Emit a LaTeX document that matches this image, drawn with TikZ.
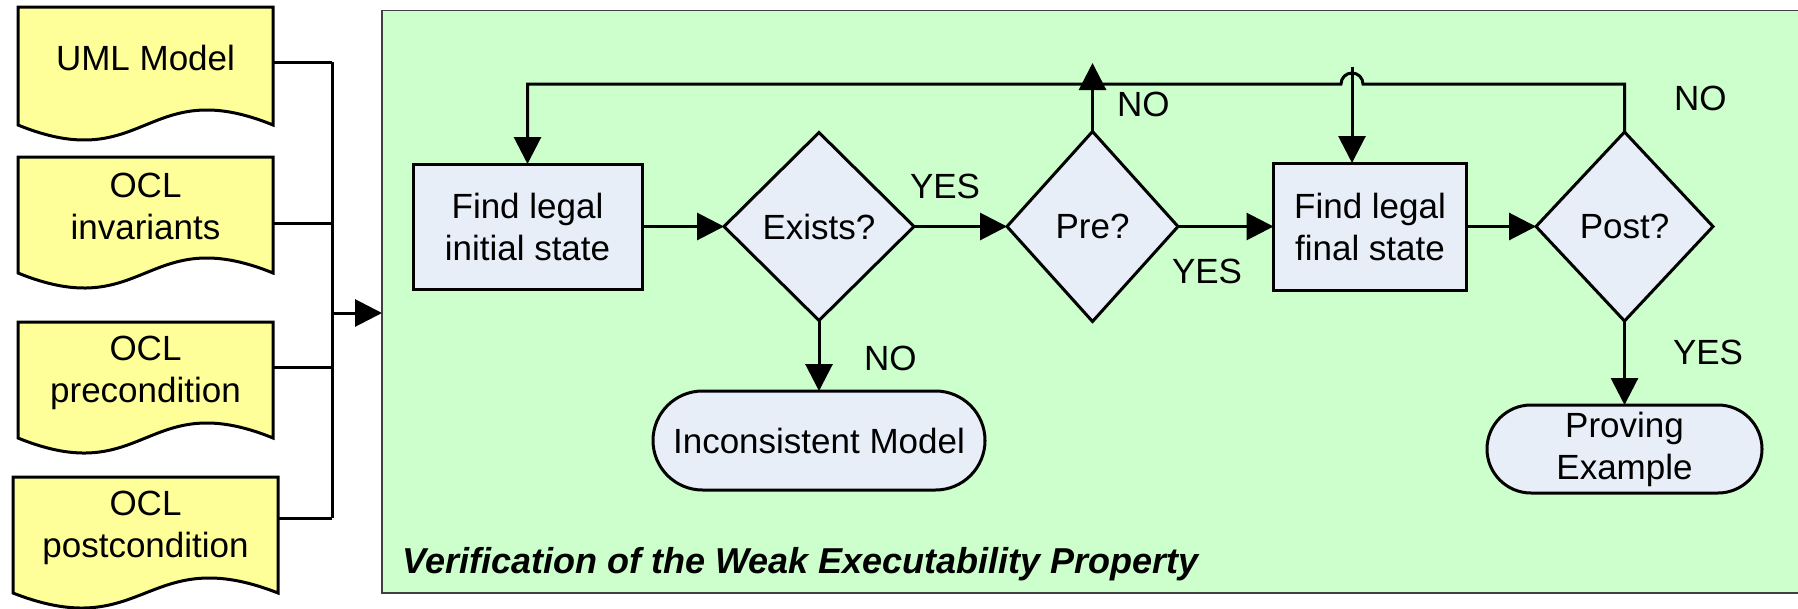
\documentclass[tikz,border=0pt]{standalone}
\usepackage{fontspec}
\setmainfont{Liberation Sans}
\usetikzlibrary{arrows.meta,shapes.geometric,calc}

\definecolor{docfill}{HTML}{FFFF99}
\definecolor{stepfill}{HTML}{E8EEF8}
\definecolor{panelfill}{HTML}{CCFFCC}

\tikzset{
  txt/.style={font=\fontsize{35}{42}\selectfont, inner sep=0pt, outer sep=0pt, align=center},
  panel/.style={draw=black!75, line width=1.5pt, fill=panelfill, inner sep=0pt, outer sep=0pt},
  docbody/.style={inner sep=0pt, outer sep=0pt},
  docline/.style={draw=black, fill=docfill},
  procbox/.style={txt, draw, fill=stepfill},
  decision/.style={txt, diamond, draw, fill=stepfill},
  terminal/.style={txt, draw, fill=stepfill},
  lbl/.style={txt, anchor=base west},
  tip/.style={-{Triangle[length=27pt,width=27pt]}},
  heading/.style={font=\bfseries\itshape\fontsize{36}{40}\selectfont, inner sep=0pt, anchor=base west}
}

% document symbol with a wavy lower edge, drawn around an empty node
\newcommand\docwave[1]{%
  \draw[docline] (#1.north west) -- (#1.north east) -- (#1.south east)
    .. controls ($(#1.south)+(0,-52)$) and ($(#1.south)+(0,52)$) .. (#1.south west) -- cycle;}

\begin{document}
\begin{tikzpicture}[x=1pt,y=-1pt,line width=3pt,line join=miter]
\useasboundingbox (0,0) rectangle (1798,608);

% green process panel
\node[panel, minimum width=1428pt, minimum height=582.5pt] (panel) at (1096,301.75) {};
\node[heading] (title) at (401,573) {Verification of the Weak Executability Property};

% input documents
\node[docbody, minimum width=255pt, minimum height=118pt] (uml) at (145.5,66) {};
\docwave{uml}
\node[txt] (umltext) at (145.5,57.5) {UML Model};

\node[docbody, minimum width=255pt, minimum height=116pt] (inv) at (145.5,215) {};
\docwave{inv}
\node[txt] (invtext) at (145.5,206) {OCL\\invariants};

\node[docbody, minimum width=255pt, minimum height=116pt] (prec) at (145.5,380) {};
\docwave{prec}
\node[txt] (prectext) at (145.5,372.5) {OCL\\precondition};

\node[docbody, minimum width=265pt, minimum height=116pt] (postc) at (145.5,535) {};
\docwave{postc}
\node[txt] (postctext) at (145.5,527.5) {OCL\\postcondition};

% collecting bus into the panel
\coordinate (bus1) at (332,62);
\coordinate (bus2) at (332,223);
\coordinate (bus3) at (332,367);
\coordinate (bus4) at (332,518);
\coordinate (busout) at (332,313);
\draw (uml.east |- bus1) -- (bus1);
\draw (inv.east |- bus2) -- (bus2);
\draw (prec.east |- bus3) -- (bus3);
\draw (postc.east |- bus4) -- (bus4);
\draw (bus1) -- (bus4);
\draw[tip] (busout) -- (panel.west |- busout);

% flow steps
\node[procbox, minimum width=229pt, minimum height=125pt] (init) at (527.5,226.5) {Find legal\\initial state};
\node[decision, minimum width=190pt, minimum height=188pt] (exists) at (819,226.5) {Exists?};
\node[decision, minimum width=171pt, minimum height=190pt] (pre) at (1092.5,226.5) {Pre?};
\node[procbox, minimum width=193pt, minimum height=127pt] (fin) at (1370,226.5) {Find legal\\final state};
\node[decision, minimum width=177pt, minimum height=189pt] (post) at (1624.5,226.5) {Post?};
\node[terminal, minimum width=332pt, minimum height=99pt, rounded corners=49.5pt] (incon) at (819,440.5) {Inconsistent Model};
\node[terminal, minimum width=275pt, minimum height=88pt, rounded corners=44pt] (prove) at (1624.5,449) {Proving\\Example};

% main connectors
\draw[tip] (init.east) -- (exists.west);
\draw[tip] (exists.east) -- (pre.west);
\draw[tip] (pre.east) -- (fin.west);
\draw[tip] (fin.east) -- (post.west);
\draw[tip] (exists.south) -- (incon.north);
\draw[tip] (post.south) -- (prove.north);

% return loop with a line hop
\coordinate (hop) at (1352,84);
\draw[tip] (post.north) -- (post.north |- hop) -- ([xshift=11pt]hop)
  arc[start angle=0, end angle=180, radius=11pt]
  -- (init.north |- hop) -- (init.north);
\coordinate (preup) at (1092.5,63);
\draw[tip] (pre.north) -- (preup);
\coordinate (drop) at (1352,67);
\draw[tip] (drop) -- (drop |- fin.north);

% branch labels
\node[lbl] (yes1) at (910,198) {YES};
\node[lbl] (yes2) at (1172,283) {YES};
\node[lbl] (no1) at (1117,116) {NO};
\node[lbl] (no2) at (864,370) {NO};
\node[lbl] (no3) at (1674,110) {NO};
\node[lbl] (yes3) at (1673,364) {YES};
\end{tikzpicture}
\end{document}
